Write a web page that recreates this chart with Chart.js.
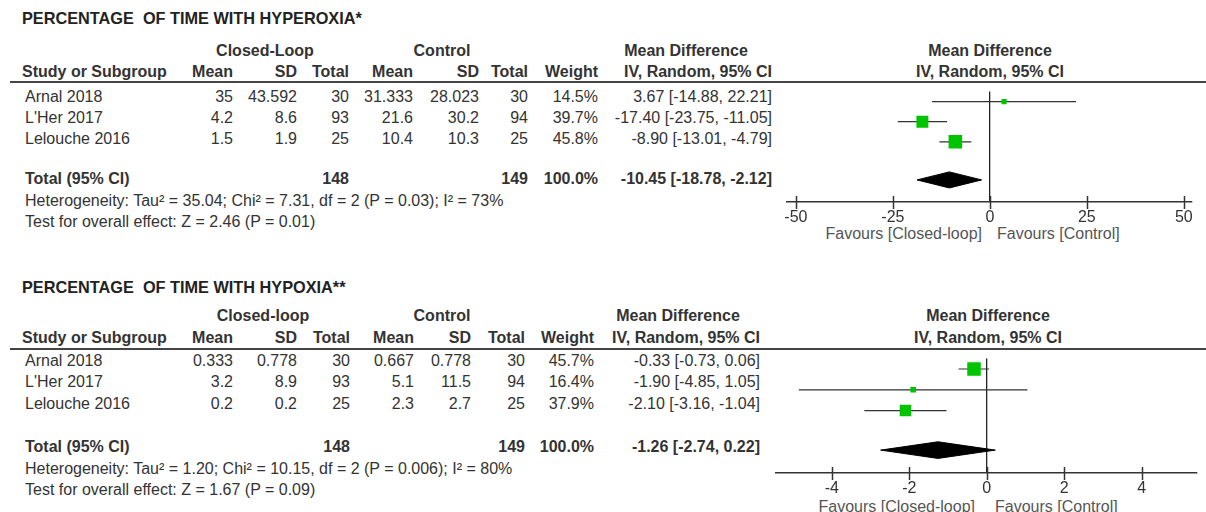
<!DOCTYPE html>
<html>
<head>
<meta charset="utf-8">
<script src="https://cdn.jsdelivr.net/npm/chart.js@4.4.1/dist/chart.umd.min.js"></script>
<style>
  html, body { margin: 0; padding: 0; background: #fff; }
  #page { position: relative; width: 1206px; height: 512px; overflow: hidden;
          font-family: "Liberation Sans", Arial, sans-serif; font-size: 16px; color: #333; }
  .t { position: absolute; height: 20px; line-height: 20px; white-space: pre; }
  .b { font-weight: bold; }
  .title { font-size: 16.3px; }
  .rule { position: absolute; height: 1.5px; background: #444; }
  .plot { position: absolute; }
</style>
</head>
<body>
<div id="page"></div>
<script>
const studies = ["Arnal 2018", "L'Her 2017", "Lelouche 2016"];

// hyperoxia
const hyperClMean = [35, 4.2, 1.5];
const hyperClSd = [43.592, 8.6, 1.9];
const hyperClN = [30, 93, 25];
const hyperCtMean = [31.333, 21.6, 10.4];
const hyperCtSd = [28.023, 30.2, 10.3];
const hyperCtN = [30, 94, 25];
const hyperWeight = [14.5, 39.7, 45.8];
const hyperMd = [3.67, -17.40, -8.90];
const hyperLo = [-14.88, -23.75, -13.01];
const hyperHi = [22.21, -11.05, -4.79];
const hyperTotal = [-10.45, -18.78, -2.12];
const hyperTotalN = [148, 149];
const hyperTicks = [-50, -25, 0, 25, 50];

// hypoxia
const hypoClMean = [0.333, 3.2, 0.2];
const hypoClSd = [0.778, 8.9, 0.2];
const hypoClN = [30, 93, 25];
const hypoCtMean = [0.667, 5.1, 2.3];
const hypoCtSd = [0.778, 11.5, 2.7];
const hypoCtN = [30, 94, 25];
const hypoWeight = [45.7, 16.4, 37.9];
const hypoMd = [-0.33, -1.90, -2.10];
const hypoLo = [-0.73, -4.85, -3.16];
const hypoHi = [0.06, 1.05, -1.04];
const hypoTotal = [-1.26, -2.74, 0.22];
const hypoTotalN = [148, 149];
const hypoTicks = [-4, -2, 0, 2, 4];

const page = document.getElementById("page");

function txt(str, x, y, align, bold, color, cls) {
  const d = document.createElement("div");
  d.className = "t" + (bold ? " b" : "") + (cls ? " " + cls : "");
  d.textContent = str;
  d.style.top = (y - 10) + "px";
  if (align === "right") {
    d.style.left = (x - 400) + "px"; d.style.width = "400px"; d.style.textAlign = "right";
  } else if (align === "center") {
    d.style.left = (x - 200) + "px"; d.style.width = "400px"; d.style.textAlign = "center";
  } else {
    d.style.left = x + "px";
  }
  if (color) d.style.color = color;
  page.appendChild(d);
}

function ciText(m, lo, hi) {
  return m.toFixed(2) + " [" + lo.toFixed(2) + ", " + hi.toFixed(2) + "]";
}

const crossTicks = {
  id: "crossTicks",
  afterDraw(chart) {
    const s = chart.scales.x;
    const ctx = chart.ctx;
    ctx.save();
    ctx.strokeStyle = "#333";
    ctx.lineWidth = 1.5;
    s.ticks.forEach(t => {
      const px = Math.round(s.getPixelForValue(t.value)) + 0.5;
      ctx.beginPath();
      ctx.moveTo(px, s.top - 6);
      ctx.lineTo(px, s.top + 7);
      ctx.stroke();
    });
    ctx.restore();
  }
};

function drawPanel(L, title, clLabel, cols) {
  txt(title, 22, L.titleY, "left", true, "#222", "title");
  // headers
  txt(clLabel, L.clCenter, L.h1Y, "center", true);
  txt("Control", L.ctCenter, L.h1Y, "center", true);
  txt("Mean Difference", L.mdCenter, L.h1Y, "center", true);
  txt("Mean Difference", L.zeroX, L.h1Y, "center", true);
  txt("Study or Subgroup", 22, L.h2Y, "left", true);
  ["Mean", "SD", "Total", "Mean", "SD", "Total", "Weight", "IV, Random, 95% CI"].forEach((h, i) => {
    txt(h, L.cols[i], L.h2Y, "right", true);
  });
  txt("IV, Random, 95% CI", L.zeroX, L.h2Y, "center", true);
  const r = document.createElement("div");
  r.className = "rule";
  r.style.left = "10px"; r.style.width = "1196px"; r.style.top = (L.lineY - 1) + "px";
  page.appendChild(r);

  studies.forEach((s, i) => {
    const y = L.rowsY[i];
    txt(s, 25, y, "left");
    txt(String(cols.clMean[i]), L.cols[0], y, "right");
    txt(String(cols.clSd[i]), L.cols[1], y, "right");
    txt(String(cols.clN[i]), L.cols[2], y, "right");
    txt(String(cols.ctMean[i]), L.cols[3], y, "right");
    txt(String(cols.ctSd[i]), L.cols[4], y, "right");
    txt(String(cols.ctN[i]), L.cols[5], y, "right");
    txt(cols.weight[i].toFixed(1) + "%", L.cols[6], y, "right");
    txt(ciText(cols.md[i], cols.lo[i], cols.hi[i]), L.cols[7], y, "right");
  });
  txt("Total (95% CI)", 25, L.totalY, "left", true);
  txt(String(cols.totalN[0]), L.cols[2], L.totalY, "right", true);
  txt(String(cols.totalN[1]), L.cols[5], L.totalY, "right", true);
  txt("100.0%", L.cols[6], L.totalY, "right", true);
  txt(ciText(cols.total[0], cols.total[1], cols.total[2]), L.cols[7], L.totalY, "right", true);
  txt(cols.het, 25, L.hetY, "left");
  txt(cols.test, 25, L.testY, "left");
  txt("Favours [Closed-loop]", L.zeroX - L.favGapL, L.favY, "right", false, "#555");
  txt("Favours [Control]", L.zeroX + L.favGapR, L.favY, "left", false, "#555");

  // plot
  const wrap = document.createElement("div");
  wrap.className = "plot";
  wrap.style.left = L.canvasLeft + "px";
  wrap.style.top = L.lineY + "px";
  wrap.style.width = (1206 - L.canvasLeft) + "px";
  wrap.style.height = (L.areaH + 40) + "px";
  const cv = document.createElement("canvas");
  wrap.appendChild(cv);
  page.appendChild(wrap);

  const rowY = [1, 2, 3];
  const totY = 4.9;
  const datasets = [{
    showLine: false,
    data: cols.md.map((v, i) => ({ x: v, y: rowY[i] })),
    pointStyle: "rect",
    pointRadius: cols.weight.map(w => (0.27 * w + 1.2) / 1.414),
    pointBackgroundColor: "#00c400",
    pointBorderColor: "#00c400",
    pointBorderWidth: 0,
    order: 0
  }];
  cols.md.forEach((v, i) => {
    datasets.push({
      data: [{ x: cols.lo[i], y: rowY[i] }, { x: cols.hi[i], y: rowY[i] }],
      borderColor: "#333", borderWidth: 1.2, pointRadius: 0, order: 1
    });
  });
  datasets.push({
    data: [{ x: cols.total[1], y: totY }, { x: cols.total[0], y: totY - 0.4 }, { x: cols.total[2], y: totY }],
    borderColor: "#000", borderWidth: 1, pointRadius: 0, fill: false, order: 2
  });
  datasets.push({
    data: [{ x: cols.total[1], y: totY }, { x: cols.total[0], y: totY + 0.4 }, { x: cols.total[2], y: totY }],
    borderColor: "#000", borderWidth: 1, pointRadius: 0, fill: "-1", backgroundColor: "#000", order: 2
  });

  new Chart(cv, {
    type: "line",
    data: { datasets },
    plugins: [crossTicks],
    options: {
      responsive: true,
      maintainAspectRatio: false,
      animation: false,
      events: [],
      layout: { padding: { left: L.padL, right: L.padR, top: 0, bottom: 0 } },
      plugins: { legend: { display: false }, tooltip: { enabled: false } },
      elements: { line: { tension: 0 } },
      scales: {
        x: {
          type: "linear",
          min: L.xMin, max: L.xMax,
          afterBuildTicks: s => { s.ticks = cols.ticks.map(v => ({ value: v })); },
          afterFit: s => { s.height = 40; },
          ticks: {
            padding: 6, color: "#333", autoSkip: false, maxRotation: 0,
            font: { family: "'Liberation Sans', Arial, sans-serif", size: 16 },
            callback: v => String(v)
          },
          grid: {
            drawTicks: false,
            lineWidth: 1.3,
            color: c => (c.tick && c.tick.value === 0) ? "#222" : "rgba(0,0,0,0)"
          },
          border: { display: true, color: "#333", width: 1.5 }
        },
        y: { type: "linear", reverse: true, min: 0.5, max: 6.0, display: false }
      }
    }
  });
}

drawPanel({
  titleY: 18, h1Y: 51, h2Y: 72, lineY: 82, rowsY: [97, 118, 139], totalY: 179, hetY: 201, testY: 222,
  cols: [233, 297, 349, 413, 479, 528, 598, 772],
  clCenter: 265, ctCenter: 442, mdCenter: 686, zeroX: 990,
  favY: 234, favGapL: 8, favGapR: 7,
  canvasLeft: 760, padL: 27, padR: 14, areaH: 120, xMin: -52.3, xMax: 52.1
}, "PERCENTAGE  OF TIME WITH HYPEROXIA*", "Closed-Loop", {
  clMean: hyperClMean, clSd: hyperClSd, clN: hyperClN,
  ctMean: hyperCtMean, ctSd: hyperCtSd, ctN: hyperCtN,
  weight: hyperWeight, md: hyperMd, lo: hyperLo, hi: hyperHi,
  total: hyperTotal, totalN: hyperTotalN, ticks: hyperTicks,
  het: "Heterogeneity: Tau\u00b2 = 35.04; Chi\u00b2 = 7.31, df = 2 (P = 0.03); I\u00b2 = 73%",
  test: "Test for overall effect: Z = 2.46 (P = 0.01)"
});

drawPanel({
  titleY: 287, h1Y: 316, h2Y: 338, lineY: 349, rowsY: [361, 382, 404], totalY: 447, hetY: 469, testY: 490,
  cols: [233, 297, 350, 414, 471, 525, 594, 760],
  clCenter: 263, ctCenter: 442, mdCenter: 678, zeroX: 988,
  favY: 507, favGapL: 13, favGapR: 7,
  canvasLeft: 760, padL: 16, padR: 7, areaH: 124, xMin: -5.44, xMax: 5.41
}, "PERCENTAGE  OF TIME WITH HYPOXIA**", "Closed-loop", {
  clMean: hypoClMean, clSd: hypoClSd, clN: hypoClN,
  ctMean: hypoCtMean, ctSd: hypoCtSd, ctN: hypoCtN,
  weight: hypoWeight, md: hypoMd, lo: hypoLo, hi: hypoHi,
  total: hypoTotal, totalN: hypoTotalN, ticks: hypoTicks,
  het: "Heterogeneity: Tau\u00b2 = 1.20; Chi\u00b2 = 10.15, df = 2 (P = 0.006); I\u00b2 = 80%",
  test: "Test for overall effect: Z = 1.67 (P = 0.09)"
});
</script>
</body>
</html>
